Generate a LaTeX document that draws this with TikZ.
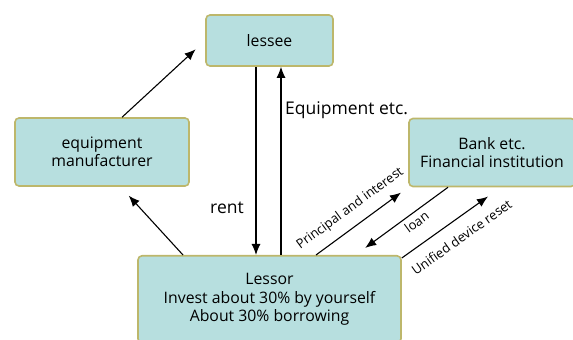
\documentclass[tikz,border=0pt]{standalone}
\usepackage{fontspec}
\setmainfont{Open Sans}
\usetikzlibrary{positioning,arrows.meta,calc}
\definecolor{boxfill}{HTML}{B7DFDF}
\definecolor{boxedge}{HTML}{BDB76B}
\tikzset{
  flowarrow/.style={-{Latex[length=11pt,width=9pt]}, line width=1.1pt},
  partybox/.style={draw=boxedge, line width=1.6pt, rounded corners=4pt, fill=boxfill, align=center, inner sep=2pt, font=\fontsize{15.8}{18.5}\selectfont},
  biglabel/.style={font=\fontsize{17.5}{20}\selectfont, inner sep=1pt},
  slopelabel/.style={font=\fontsize{13}{15}\selectfont, sloped, inner sep=1pt}
}
\begin{document}
\begin{tikzpicture}[x=1pt, y=1pt]
      \clip (0,0) rectangle (573,340);
      \node[partybox, minimum width=127pt, minimum height=51pt] (lessee) at (269.5,299.5) {lessee};
      \node[partybox, minimum width=174pt, minimum height=68pt] (mfr) at (102,188) {equipment\\manufacturer};
      \node[partybox, minimum width=166pt, minimum height=68pt] (bank) at (492,187.5) {Bank etc.\\Financial institution};
      \node[partybox, anchor=north, minimum width=263pt, minimum height=87pt] (lessor) at (269.5,85) {Lessor\\Invest about 30\% by yourself\\About 30\% borrowing};
      % lessee and lessor
      \draw[flowarrow] ([xshift=-13.5pt]lessee.south) -- ([xshift=-13.5pt]lessee.south |- lessor.north);
      \draw[flowarrow] ([xshift=11.5pt]lessee.south |- lessor.north) -- ([xshift=11.5pt]lessee.south);
      \node[biglabel] (rent) at (227,132) {rent};
      \node[biglabel, anchor=west] (equip) at (284,230) {Equipment etc.};
      % manufacturer
      \draw[flowarrow, shorten >=13pt] (mfr.60) -- (lessee.west);
      \draw[flowarrow, shorten >=12pt] ([xshift=-86.5pt]lessor.north) -- ([xshift=18.6pt]mfr.south);
      % bank
      \draw[flowarrow, shorten >=9pt] ([xshift=46.5pt]lessor.north) -- node[slopelabel, above=9pt, pos=0.48] {Principal and interest} (bank.south west);
      \draw[flowarrow, shorten >=12pt] ([xshift=-44pt]bank.south) -- node[slopelabel, below=3pt, pos=0.4] {loan} ([xshift=86pt]lessor.north);
      \draw[flowarrow, shorten >=16pt] ([yshift=-3pt]lessor.north east) -- node[slopelabel, below=11pt, pos=0.5] {Unified device reset} ([xshift=9pt]bank.south);
\end{tikzpicture}
\end{document}
